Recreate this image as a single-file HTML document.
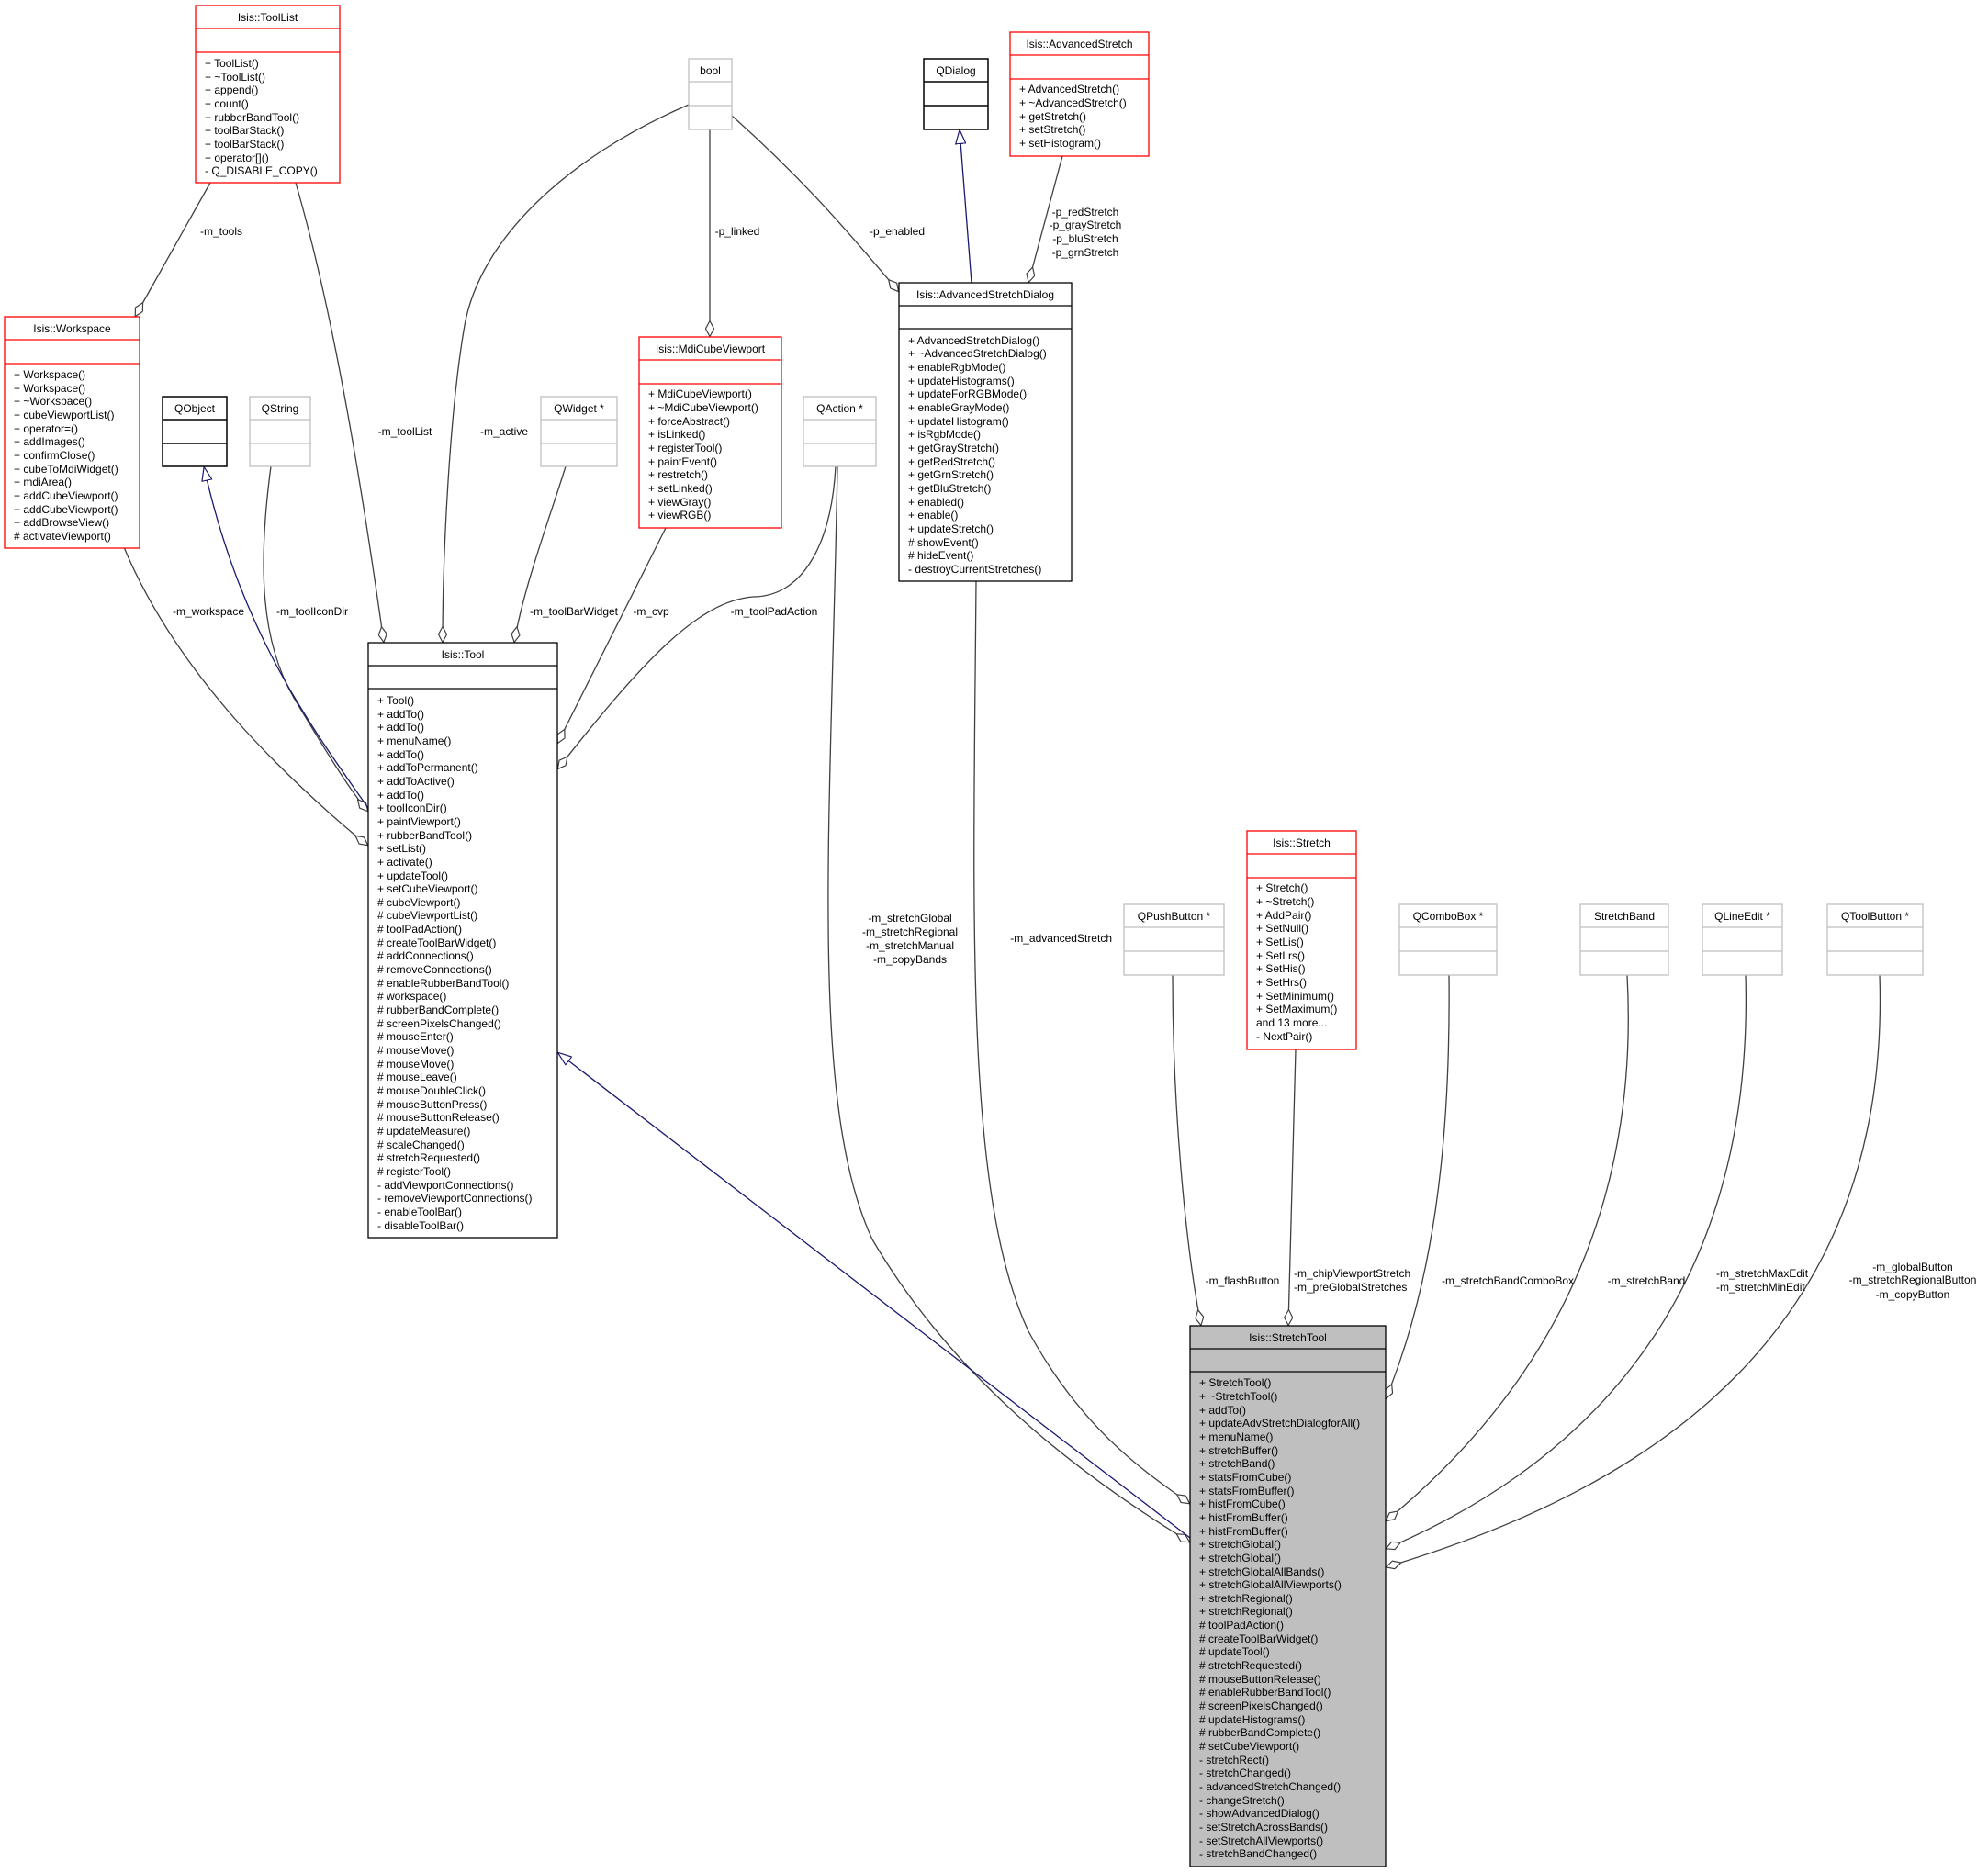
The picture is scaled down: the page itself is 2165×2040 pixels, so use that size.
<!DOCTYPE html>
<html><head><meta charset="utf-8"><style>
html,body{margin:0;padding:0;background:#fff}
svg{display:block}
text{font-family:"Liberation Sans",Helvetica,Arial,sans-serif;font-size:12px;fill:#000}
.t{text-anchor:middle}
.e{fill:none;stroke:#404040;stroke-width:1.3}
.i{fill:none;stroke:#191970;stroke-width:1.3}
</style></head><body>
<svg width="2165" height="2040" viewBox="0 0 2165 2040" xmlns="http://www.w3.org/2000/svg">
<defs>
<marker id="d" viewBox="0 0 18 10" refX="18" refY="5" markerWidth="18" markerHeight="10" markerUnits="userSpaceOnUse" orient="auto"><path d="M0.5,5 L9,0.5 L17.5,5 L9,9.5 Z" fill="#fff" stroke="#404040" stroke-width="1.2"/></marker>
<marker id="a" viewBox="0 0 16 12" refX="16" refY="6" markerWidth="16" markerHeight="12" markerUnits="userSpaceOnUse" orient="auto"><path d="M0.5,0.5 L15.5,6 L0.5,11.5 Z" fill="#fff" stroke="#191970" stroke-width="1.2"/></marker>
</defs>

<!-- edges -->
<path class="e" d="M229,199 L147,345" marker-end="url(#d)"/>
<path class="e" d="M322,199 C360,330 390,500 418,700" marker-end="url(#d)"/>
<path class="e" d="M750,114 C620,170 520,260 505,360 C490,450 482,600 482,700" marker-end="url(#d)"/>
<path class="e" d="M616,508 C600,560 570,640 560,700" marker-end="url(#d)"/>
<path class="e" d="M725,575 L607,810" marker-end="url(#d)"/>
<path class="e" d="M910,508 C905,600 870,650 820,650 C760,655 700,720 607,838" marker-end="url(#d)"/>
<path class="e" d="M912,508 C905,900 880,1200 950,1350 C1050,1520 1200,1620 1296,1680" marker-end="url(#d)"/>
<path class="e" d="M1063,633 C1060,1000 1050,1300 1120,1450 C1180,1560 1250,1605 1296,1638" marker-end="url(#d)"/>
<path class="e" d="M773,141 L773,367" marker-end="url(#d)"/>
<path class="e" d="M797,126 C880,200 930,260 979,318" marker-end="url(#d)"/>
<path class="e" d="M1157,170 L1120,308" marker-end="url(#d)"/>
<path class="e" d="M295,508 C280,620 285,700 320,760 C350,810 380,860 401,884" marker-end="url(#d)"/>
<path class="e" d="M135,596 C170,680 230,760 300,830 C340,870 380,905 401,921" marker-end="url(#d)"/>
<path class="i" d="M401,880 C330,780 260,680 222,508" marker-end="url(#a)"/>
<path class="i" d="M1058,308 L1045,141" marker-end="url(#a)"/>
<path class="i" d="M1296,1675 L607,1146" marker-end="url(#a)"/>
<path class="e" d="M1277,1062 C1277,1200 1290,1350 1308,1444" marker-end="url(#d)"/>
<path class="e" d="M1411,1143 L1403,1444" marker-end="url(#d)"/>
<path class="e" d="M1578,1062 C1580,1250 1560,1400 1509,1524" marker-end="url(#d)"/>
<path class="e" d="M1772,1062 C1785,1300 1700,1500 1509,1657" marker-end="url(#d)"/>
<path class="e" d="M1901,1062 C1910,1380 1760,1580 1509,1687" marker-end="url(#d)"/>
<path class="e" d="M2047,1062 C2060,1450 1800,1620 1509,1707" marker-end="url(#d)"/>

<!-- edge labels -->
<text class="t" x="241" y="256">-m_tools</text>
<text class="t" x="441" y="474">-m_toolList</text>
<text class="t" x="549" y="474">-m_active</text>
<text class="t" x="227" y="670">-m_workspace</text>
<text class="t" x="340" y="670">-m_toolIconDir</text>
<text class="t" x="625" y="670">-m_toolBarWidget</text>
<text class="t" x="709" y="670">-m_cvp</text>
<text class="t" x="843" y="670">-m_toolPadAction</text>
<text class="t" x="803" y="256">-p_linked</text>
<text class="t" x="977" y="256">-p_enabled</text>
<text class="t" x="1182" y="235">-p_redStretch</text>
<text class="t" x="1182" y="249">-p_grayStretch</text>
<text class="t" x="1182" y="264">-p_bluStretch</text>
<text class="t" x="1182" y="279">-p_grnStretch</text>
<text class="t" x="991" y="1004">-m_stretchGlobal</text>
<text class="t" x="991" y="1019">-m_stretchRegional</text>
<text class="t" x="991" y="1034">-m_stretchManual</text>
<text class="t" x="991" y="1049">-m_copyBands</text>
<text x="1211" y="1026" text-anchor="end">-m_advancedStretch</text>
<text class="t" x="1353" y="1399">-m_flashButton</text>
<text x="1409" y="1391">-m_chipViewportStretch</text>
<text x="1409" y="1406">-m_preGlobalStretches</text>
<text class="t" x="1642" y="1399">-m_stretchBandComboBox</text>
<text class="t" x="1793" y="1399">-m_stretchBand</text>
<text x="1869" y="1391">-m_stretchMaxEdit</text>
<text x="1869" y="1406">-m_stretchMinEdit</text>
<text class="t" x="2083" y="1384">-m_globalButton</text>
<text class="t" x="2083" y="1398">-m_stretchRegionalButton</text>
<text class="t" x="2083" y="1414">-m_copyButton</text>

<!-- Isis::ToolList -->
<g>
<rect x="213" y="6" width="157" height="193" fill="#fff" stroke="#f00" stroke-width="1.3"/>
<line x1="213" y1="31" x2="370" y2="31" stroke="#f00" stroke-width="1.3"/>
<line x1="213" y1="57" x2="370" y2="57" stroke="#f00" stroke-width="1.3"/>
<text class="t" x="291.5" y="23">Isis::ToolList</text>
<text x="223" y="73">+ ToolList()</text>
<text x="223" y="88">+ ~ToolList()</text>
<text x="223" y="102">+ append()</text>
<text x="223" y="117">+ count()</text>
<text x="223" y="132">+ rubberBandTool()</text>
<text x="223" y="146">+ toolBarStack()</text>
<text x="223" y="161">+ toolBarStack()</text>
<text x="223" y="176">+ operator[]()</text>
<text x="223" y="190">- Q_DISABLE_COPY()</text>
</g>

<!-- Isis::Workspace -->
<g>
<rect x="5" y="345" width="147" height="252" fill="#fff" stroke="#f00" stroke-width="1.3"/>
<line x1="5" y1="370" x2="152" y2="370" stroke="#f00" stroke-width="1.3"/>
<line x1="5" y1="396" x2="152" y2="396" stroke="#f00" stroke-width="1.3"/>
<text class="t" x="78.5" y="362">Isis::Workspace</text>
<text x="15" y="412">+ Workspace()</text>
<text x="15" y="427">+ Workspace()</text>
<text x="15" y="441">+ ~Workspace()</text>
<text x="15" y="456">+ cubeViewportList()</text>
<text x="15" y="471">+ operator=()</text>
<text x="15" y="485">+ addImages()</text>
<text x="15" y="500">+ confirmClose()</text>
<text x="15" y="515">+ cubeToMdiWidget()</text>
<text x="15" y="529">+ mdiArea()</text>
<text x="15" y="544">+ addCubeViewport()</text>
<text x="15" y="559">+ addCubeViewport()</text>
<text x="15" y="573">+ addBrowseView()</text>
<text x="15" y="588"># activateViewport()</text>
</g>

<!-- QObject -->
<rect x="177" y="432" width="70" height="76" fill="#fff" stroke="#000" stroke-width="1.5"/>
<line x1="177" y1="457" x2="247" y2="457" stroke="#000" stroke-width="1.5"/>
<line x1="177" y1="483" x2="247" y2="483" stroke="#000" stroke-width="1.5"/>
<text class="t" x="212" y="449">QObject</text>
<!-- QString -->
<rect x="272" y="432" width="66" height="76" fill="#fff" stroke="#bfbfbf" stroke-width="1.3"/>
<line x1="272" y1="457" x2="338" y2="457" stroke="#bfbfbf" stroke-width="1.3"/>
<line x1="272" y1="483" x2="338" y2="483" stroke="#bfbfbf" stroke-width="1.3"/>
<text class="t" x="305" y="449">QString</text>
<!-- QWidget * -->
<rect x="589" y="432" width="83" height="76" fill="#fff" stroke="#bfbfbf" stroke-width="1.3"/>
<line x1="589" y1="457" x2="672" y2="457" stroke="#bfbfbf" stroke-width="1.3"/>
<line x1="589" y1="483" x2="672" y2="483" stroke="#bfbfbf" stroke-width="1.3"/>
<text class="t" x="630.5" y="449">QWidget *</text>
<!-- bool -->
<rect x="750" y="64" width="47" height="77" fill="#fff" stroke="#bfbfbf" stroke-width="1.3"/>
<line x1="750" y1="89" x2="797" y2="89" stroke="#bfbfbf" stroke-width="1.3"/>
<line x1="750" y1="115" x2="797" y2="115" stroke="#bfbfbf" stroke-width="1.3"/>
<text class="t" x="773.5" y="81">bool</text>
<!-- QDialog -->
<rect x="1006" y="64" width="70" height="77" fill="#fff" stroke="#000" stroke-width="1.5"/>
<line x1="1006" y1="89" x2="1076" y2="89" stroke="#000" stroke-width="1.5"/>
<line x1="1006" y1="115" x2="1076" y2="115" stroke="#000" stroke-width="1.5"/>
<text class="t" x="1041" y="81">QDialog</text>
<!-- QAction * -->
<rect x="875" y="432" width="79" height="76" fill="#fff" stroke="#bfbfbf" stroke-width="1.3"/>
<line x1="875" y1="457" x2="954" y2="457" stroke="#bfbfbf" stroke-width="1.3"/>
<line x1="875" y1="483" x2="954" y2="483" stroke="#bfbfbf" stroke-width="1.3"/>
<text class="t" x="914.5" y="449">QAction *</text>

<!-- Isis::AdvancedStretch -->
<g>
<rect x="1100" y="35" width="151" height="135" fill="#fff" stroke="#f00" stroke-width="1.3"/>
<line x1="1100" y1="60" x2="1251" y2="60" stroke="#f00" stroke-width="1.3"/>
<line x1="1100" y1="86" x2="1251" y2="86" stroke="#f00" stroke-width="1.3"/>
<text class="t" x="1175.5" y="52">Isis::AdvancedStretch</text>
<text x="1110" y="101">+ AdvancedStretch()</text>
<text x="1110" y="116">+ ~AdvancedStretch()</text>
<text x="1110" y="131">+ getStretch()</text>
<text x="1110" y="145">+ setStretch()</text>
<text x="1110" y="160">+ setHistogram()</text>
</g>

<!-- Isis::MdiCubeViewport -->
<g>
<rect x="696" y="367" width="155" height="208" fill="#fff" stroke="#f00" stroke-width="1.3"/>
<line x1="696" y1="392" x2="851" y2="392" stroke="#f00" stroke-width="1.3"/>
<line x1="696" y1="418" x2="851" y2="418" stroke="#f00" stroke-width="1.3"/>
<text class="t" x="773.5" y="384">Isis::MdiCubeViewport</text>
<text x="706" y="433">+ MdiCubeViewport()</text>
<text x="706" y="448">+ ~MdiCubeViewport()</text>
<text x="706" y="463">+ forceAbstract()</text>
<text x="706" y="477">+ isLinked()</text>
<text x="706" y="492">+ registerTool()</text>
<text x="706" y="507">+ paintEvent()</text>
<text x="706" y="521">+ restretch()</text>
<text x="706" y="536">+ setLinked()</text>
<text x="706" y="551">+ viewGray()</text>
<text x="706" y="565">+ viewRGB()</text>
</g>

<!-- Isis::AdvancedStretchDialog -->
<g>
<rect x="979" y="308" width="188" height="325" fill="#fff" stroke="#000" stroke-width="1.3"/>
<line x1="979" y1="333" x2="1167" y2="333" stroke="#000" stroke-width="1.3"/>
<line x1="979" y1="358" x2="1167" y2="358" stroke="#000" stroke-width="1.3"/>
<text class="t" x="1073" y="325">Isis::AdvancedStretchDialog</text>
<text x="989" y="375">+ AdvancedStretchDialog()</text>
<text x="989" y="389">+ ~AdvancedStretchDialog()</text>
<text x="989" y="404">+ enableRgbMode()</text>
<text x="989" y="419">+ updateHistograms()</text>
<text x="989" y="433">+ updateForRGBMode()</text>
<text x="989" y="448">+ enableGrayMode()</text>
<text x="989" y="463">+ updateHistogram()</text>
<text x="989" y="477">+ isRgbMode()</text>
<text x="989" y="492">+ getGrayStretch()</text>
<text x="989" y="507">+ getRedStretch()</text>
<text x="989" y="521">+ getGrnStretch()</text>
<text x="989" y="536">+ getBluStretch()</text>
<text x="989" y="551">+ enabled()</text>
<text x="989" y="565">+ enable()</text>
<text x="989" y="580">+ updateStretch()</text>
<text x="989" y="595"># showEvent()</text>
<text x="989" y="609"># hideEvent()</text>
<text x="989" y="624">- destroyCurrentStretches()</text>
</g>

<!-- Isis::Tool -->
<g>
<rect x="401" y="700" width="206" height="648" fill="#fff" stroke="#000" stroke-width="1.3"/>
<line x1="401" y1="725" x2="607" y2="725" stroke="#000" stroke-width="1.3"/>
<line x1="401" y1="750" x2="607" y2="750" stroke="#000" stroke-width="1.3"/>
<text class="t" x="504" y="717">Isis::Tool</text>
<text x="411" y="767">+ Tool()</text>
<text x="411" y="782">+ addTo()</text>
<text x="411" y="796">+ addTo()</text>
<text x="411" y="811">+ menuName()</text>
<text x="411" y="826">+ addTo()</text>
<text x="411" y="840">+ addToPermanent()</text>
<text x="411" y="855">+ addToActive()</text>
<text x="411" y="870">+ addTo()</text>
<text x="411" y="884">+ toolIconDir()</text>
<text x="411" y="899">+ paintViewport()</text>
<text x="411" y="914">+ rubberBandTool()</text>
<text x="411" y="928">+ setList()</text>
<text x="411" y="943">+ activate()</text>
<text x="411" y="958">+ updateTool()</text>
<text x="411" y="972">+ setCubeViewport()</text>
<text x="411" y="987"># cubeViewport()</text>
<text x="411" y="1001"># cubeViewportList()</text>
<text x="411" y="1016"># toolPadAction()</text>
<text x="411" y="1031"># createToolBarWidget()</text>
<text x="411" y="1045"># addConnections()</text>
<text x="411" y="1060"># removeConnections()</text>
<text x="411" y="1075"># enableRubberBandTool()</text>
<text x="411" y="1089"># workspace()</text>
<text x="411" y="1104"># rubberBandComplete()</text>
<text x="411" y="1119"># screenPixelsChanged()</text>
<text x="411" y="1133"># mouseEnter()</text>
<text x="411" y="1148"># mouseMove()</text>
<text x="411" y="1163"># mouseMove()</text>
<text x="411" y="1177"># mouseLeave()</text>
<text x="411" y="1192"># mouseDoubleClick()</text>
<text x="411" y="1207"># mouseButtonPress()</text>
<text x="411" y="1221"># mouseButtonRelease()</text>
<text x="411" y="1236"># updateMeasure()</text>
<text x="411" y="1251"># scaleChanged()</text>
<text x="411" y="1265"># stretchRequested()</text>
<text x="411" y="1280"># registerTool()</text>
<text x="411" y="1295">- addViewportConnections()</text>
<text x="411" y="1309">- removeViewportConnections()</text>
<text x="411" y="1324">- enableToolBar()</text>
<text x="411" y="1339">- disableToolBar()</text>
</g>

<!-- small grey boxes row -->
<rect x="1224" y="985" width="109" height="77" fill="#fff" stroke="#bfbfbf" stroke-width="1.3"/>
<line x1="1224" y1="1010" x2="1333" y2="1010" stroke="#bfbfbf" stroke-width="1.3"/>
<line x1="1224" y1="1036" x2="1333" y2="1036" stroke="#bfbfbf" stroke-width="1.3"/>
<text class="t" x="1278.5" y="1002">QPushButton *</text>

<rect x="1524" y="985" width="106" height="77" fill="#fff" stroke="#bfbfbf" stroke-width="1.3"/>
<line x1="1524" y1="1010" x2="1630" y2="1010" stroke="#bfbfbf" stroke-width="1.3"/>
<line x1="1524" y1="1036" x2="1630" y2="1036" stroke="#bfbfbf" stroke-width="1.3"/>
<text class="t" x="1577" y="1002">QComboBox *</text>

<rect x="1721" y="985" width="96" height="77" fill="#fff" stroke="#bfbfbf" stroke-width="1.3"/>
<line x1="1721" y1="1010" x2="1817" y2="1010" stroke="#bfbfbf" stroke-width="1.3"/>
<line x1="1721" y1="1036" x2="1817" y2="1036" stroke="#bfbfbf" stroke-width="1.3"/>
<text class="t" x="1769" y="1002">StretchBand</text>

<rect x="1854" y="985" width="87" height="77" fill="#fff" stroke="#bfbfbf" stroke-width="1.3"/>
<line x1="1854" y1="1010" x2="1941" y2="1010" stroke="#bfbfbf" stroke-width="1.3"/>
<line x1="1854" y1="1036" x2="1941" y2="1036" stroke="#bfbfbf" stroke-width="1.3"/>
<text class="t" x="1897.5" y="1002">QLineEdit *</text>

<rect x="1990" y="985" width="104" height="77" fill="#fff" stroke="#bfbfbf" stroke-width="1.3"/>
<line x1="1990" y1="1010" x2="2094" y2="1010" stroke="#bfbfbf" stroke-width="1.3"/>
<line x1="1990" y1="1036" x2="2094" y2="1036" stroke="#bfbfbf" stroke-width="1.3"/>
<text class="t" x="2042" y="1002">QToolButton *</text>

<!-- Isis::Stretch -->
<g>
<rect x="1358" y="905" width="119" height="238" fill="#fff" stroke="#f00" stroke-width="1.3"/>
<line x1="1358" y1="930" x2="1477" y2="930" stroke="#f00" stroke-width="1.3"/>
<line x1="1358" y1="956" x2="1477" y2="956" stroke="#f00" stroke-width="1.3"/>
<text class="t" x="1417.5" y="922">Isis::Stretch</text>
<text x="1368" y="971">+ Stretch()</text>
<text x="1368" y="986">+ ~Stretch()</text>
<text x="1368" y="1001">+ AddPair()</text>
<text x="1368" y="1015">+ SetNull()</text>
<text x="1368" y="1030">+ SetLis()</text>
<text x="1368" y="1045">+ SetLrs()</text>
<text x="1368" y="1059">+ SetHis()</text>
<text x="1368" y="1074">+ SetHrs()</text>
<text x="1368" y="1089">+ SetMinimum()</text>
<text x="1368" y="1103">+ SetMaximum()</text>
<text x="1368" y="1118">and 13 more...</text>
<text x="1368" y="1133">- NextPair()</text>
</g>

<!-- Isis::StretchTool -->
<g>
<rect x="1296" y="1444" width="213" height="589" fill="#bfbfbf" stroke="#000" stroke-width="1.3"/>
<line x1="1296" y1="1469" x2="1509" y2="1469" stroke="#000" stroke-width="1.3"/>
<line x1="1296" y1="1494" x2="1509" y2="1494" stroke="#000" stroke-width="1.3"/>
<text class="t" x="1402.5" y="1461">Isis::StretchTool</text>
<text x="1306" y="1510">+ StretchTool()</text>
<text x="1306" y="1525">+ ~StretchTool()</text>
<text x="1306" y="1540">+ addTo()</text>
<text x="1306" y="1554">+ updateAdvStretchDialogforAll()</text>
<text x="1306" y="1569">+ menuName()</text>
<text x="1306" y="1584">+ stretchBuffer()</text>
<text x="1306" y="1598">+ stretchBand()</text>
<text x="1306" y="1613">+ statsFromCube()</text>
<text x="1306" y="1628">+ statsFromBuffer()</text>
<text x="1306" y="1642">+ histFromCube()</text>
<text x="1306" y="1657">+ histFromBuffer()</text>
<text x="1306" y="1672">+ histFromBuffer()</text>
<text x="1306" y="1686">+ stretchGlobal()</text>
<text x="1306" y="1701">+ stretchGlobal()</text>
<text x="1306" y="1716">+ stretchGlobalAllBands()</text>
<text x="1306" y="1730">+ stretchGlobalAllViewports()</text>
<text x="1306" y="1745">+ stretchRegional()</text>
<text x="1306" y="1759">+ stretchRegional()</text>
<text x="1306" y="1774"># toolPadAction()</text>
<text x="1306" y="1789"># createToolBarWidget()</text>
<text x="1306" y="1803"># updateTool()</text>
<text x="1306" y="1818"># stretchRequested()</text>
<text x="1306" y="1833"># mouseButtonRelease()</text>
<text x="1306" y="1847"># enableRubberBandTool()</text>
<text x="1306" y="1862"># screenPixelsChanged()</text>
<text x="1306" y="1877"># updateHistograms()</text>
<text x="1306" y="1891"># rubberBandComplete()</text>
<text x="1306" y="1906"># setCubeViewport()</text>
<text x="1306" y="1921">- stretchRect()</text>
<text x="1306" y="1935">- stretchChanged()</text>
<text x="1306" y="1950">- advancedStretchChanged()</text>
<text x="1306" y="1965">- changeStretch()</text>
<text x="1306" y="1979">- showAdvancedDialog()</text>
<text x="1306" y="1994">- setStretchAcrossBands()</text>
<text x="1306" y="2009">- setStretchAllViewports()</text>
<text x="1306" y="2023">- stretchBandChanged()</text>
</g>
</svg>
</body></html>
